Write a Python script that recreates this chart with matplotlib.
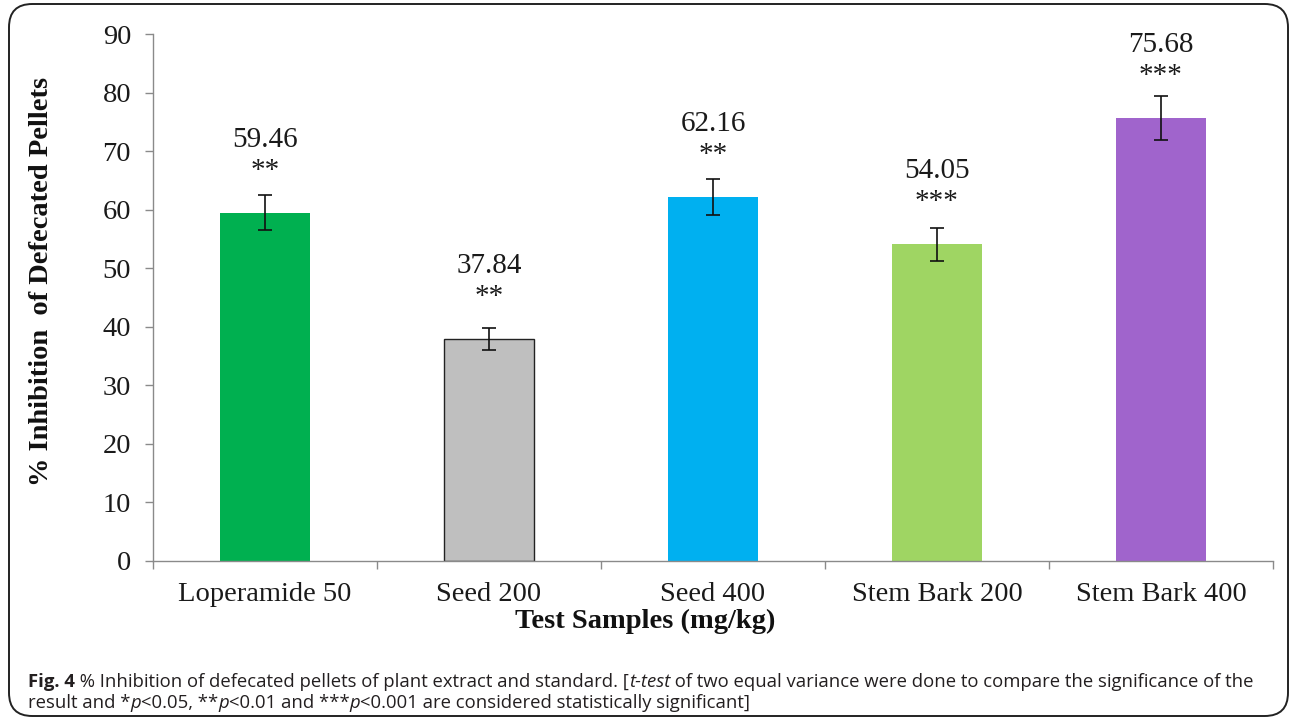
import matplotlib.pyplot as plt
from matplotlib.patches import FancyBboxPatch

# data
samples = ["Loperamide 50", "Seed 200", "Seed 400", "Stem Bark 200", "Stem Bark 400"]
inhibition = [59.46, 37.84, 62.16, 54.05, 75.68]
sem = [3.0, 1.9, 3.1, 2.8, 3.8]
stars = ["**", "**", "**", "***", "***"]
bar_colors = ["#00B050", "#BFBFBF", "#00B0F0", "#9FD563", "#A064CC"]
yticks = [0, 10, 20, 30, 40, 50, 60, 70, 80, 90]

W, H = 1293, 724
serif = "Liberation Serif"
sans = "Open Sans"

fig = plt.figure(figsize=(W / 100, H / 100), dpi=100)

# rounded frame around the whole figure
frame = FancyBboxPatch((9 / W, 8 / H), 1279 / W, 712 / H,
                       boxstyle="round,pad=0,rounding_size=0.018",
                       transform=fig.transFigure, fill=False,
                       edgecolor="#222222", linewidth=1.4,
                       mutation_aspect=W / H)
fig.patches.append(frame)

ax = fig.add_axes([153 / W, 1 - 560.7 / H, 1120 / W, (560.7 - 34) / H])

x = list(range(len(samples)))
bars = ax.bar(x, inhibition, width=0.4, color=bar_colors, zorder=2)
bars[1].set_edgecolor("#222222")
bars[1].set_linewidth(1.0)
ax.errorbar(x, inhibition, yerr=sem, fmt="none", ecolor="#111111",
            elinewidth=1.2, capsize=5, capthick=1.2, zorder=3)

for xi, v, s in zip(x, inhibition, stars):
    ax.text(xi, v + 11.3, f"{v:.2f}", ha="center", va="baseline",
            fontsize=21, family=serif, color="#1a1a1a")
    ax.text(xi, v + 6.0, s, ha="center", va="baseline",
            fontsize=21, family=serif, color="#1a1a1a")

ax.set_xlim(-0.5, len(samples) - 0.5)
ax.set_ylim(0, 90)
ax.set_yticks(yticks)
ax.set_yticklabels([str(t) for t in yticks], family=serif, fontsize=20.5, color="#1a1a1a")

# category boundaries carry the tick marks, names sit in between
ax.set_xticks([i - 0.5 for i in range(len(samples) + 1)])
ax.set_xticklabels([])
ax.set_xticks(x, minor=True)
ax.set_xticklabels(samples, minor=True, family=serif, fontsize=20.5, color="#1a1a1a")
ax.tick_params(axis="x", which="major", length=5.8, width=1, color="#8a8a8a", direction="out")
ax.tick_params(axis="x", which="minor", length=0, pad=15.5)
ax.tick_params(axis="y", length=5.8, width=1, color="#8a8a8a", pad=10)

for side in ["top", "right"]:
    ax.spines[side].set_visible(False)
for side in ["left", "bottom"]:
    ax.spines[side].set_color("#8a8a8a")
    ax.spines[side].set_linewidth(1.0)

fig.text(41.7 / W, 1 - 281.5 / H, "% Inhibition  of Defecated Pellets", rotation=90,
         ha="center", va="center", family=serif, fontweight="bold", fontsize=20.5,
         color="#111111")
fig.text(645.6 / W, 1 - 628 / H, "Test Samples (mg/kg)", ha="center", va="baseline",
         family=serif, fontweight="bold", fontsize=20.5, color="#111111")

# caption, written as runs of mixed style
cap_size = 13.3
line1 = [("Fig. 4", "normal", "bold"),
         (" % Inhibition of defecated pellets of plant extract and standard. [", "normal", "normal"),
         ("t-test", "italic", "normal"),
         (" of two equal variance were done to compare the significance of the", "normal", "normal")]
line2 = [("result and *", "normal", "normal"),
         ("p", "italic", "normal"),
         ("<0.05, **", "normal", "normal"),
         ("p", "italic", "normal"),
         ("<0.01 and ***", "normal", "normal"),
         ("p", "italic", "normal"),
         ("<0.001 are considered statistically significant]", "normal", "normal")]

renderer = fig.canvas.get_renderer()


def run_width(s, style, weight):
    # pad with 'x' so leading/trailing spaces are counted
    a = fig.text(0, 0, "x" + s + "x", family=sans, style=style, weight=weight, fontsize=cap_size)
    b = fig.text(0, 0, "xx", family=sans, style=style, weight=weight, fontsize=cap_size)
    w = a.get_window_extent(renderer).width - b.get_window_extent(renderer).width
    a.remove()
    b.remove()
    return w


def draw_runs(runs, x0, y_base):
    xp = x0
    for s, style, weight in runs:
        fig.text(xp / W, 1 - y_base / H, s, family=sans, style=style, weight=weight,
                 fontsize=cap_size, color="#231f20", ha="left", va="baseline")
        xp += run_width(s, style, weight)


draw_runs(line1, 28, 687)
draw_runs(line2, 28, 708)

fig.savefig("out.png", dpi=100)
